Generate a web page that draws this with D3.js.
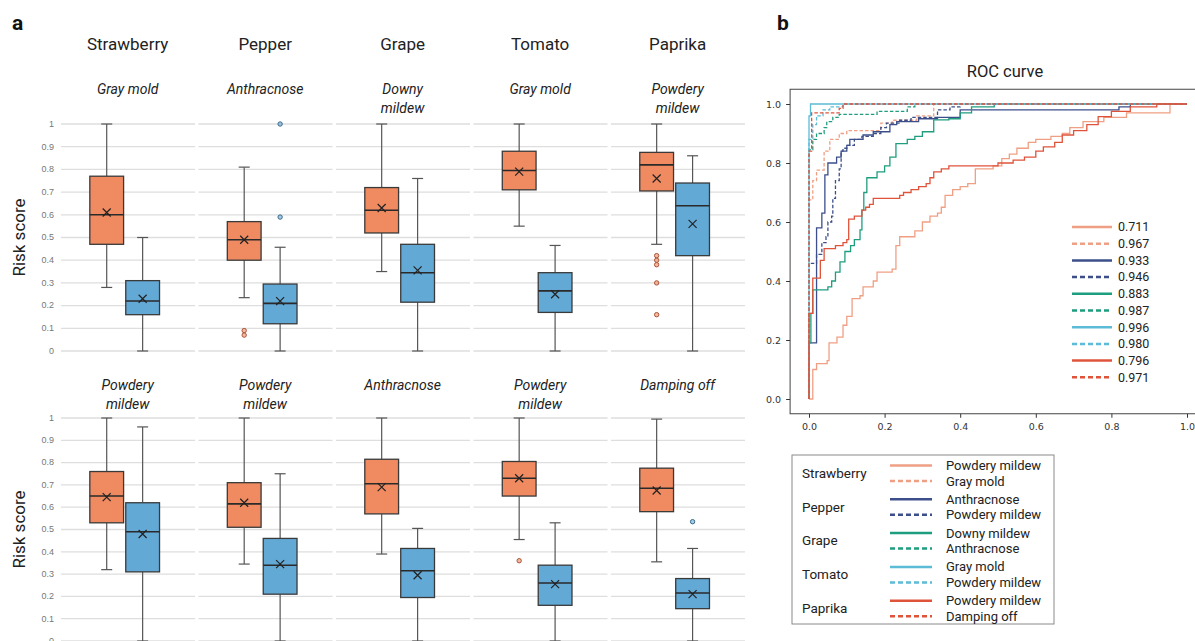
<!DOCTYPE html>
<html lang="en">
<head>
<meta charset="UTF-8">
<title>Risk score boxplots and ROC curve</title>
<style>
    body { margin: 0; background: #fff; }
    svg { display: block; font-family: Roboto, "Noto Sans", sans-serif; }
    .grid line { stroke: #dedede; stroke-width: 1.3px; }
    .ytick { font-size: 9px; fill: #777; font-family: "Liberation Sans Narrow", "Liberation Sans", sans-serif; }
    .crop { font-size: 17px; fill: #222; }
    .disease { font-size: 14px; font-style: italic; fill: #222; }
    .ylab { font-size: 17px; fill: #222; }
    .panel { font-size: 21px; font-weight: bold; fill: #111; }
    .roc-axis text { font-family: "DejaVu Sans", sans-serif; font-size: 9.5px; fill: #333; }
    .roc-axis path { display: none; }
    .roc-axis line { stroke: #333; }
    .leg { font-size: 12.5px; fill: #222; }
    .leg-crop { font-size: 13.5px; fill: #222; }
    .leg-dis { font-size: 13px; fill: #222; }
</style>
<script src="https://d3js.org/d3.v7.min.js"></script>
</head>
<body>
<svg width="1195" height="641"></svg>
<script>
    // ---- panel a data ----
    const crops = ["Strawberry", "Pepper", "Grape", "Tomato", "Paprika"];
    const topDiseases = [["Gray mold"], ["Anthracnose"], ["Downy", "mildew"], ["Gray mold"], ["Powdery", "mildew"]];
    const bottomDiseases = [["Powdery", "mildew"], ["Powdery", "mildew"], ["Anthracnose"], ["Powdery", "mildew"], ["Damping off"]];
    const yTicks = [0, 0.1, 0.2, 0.3, 0.4, 0.5, 0.6, 0.7, 0.8, 0.9, 1];

    // [min, q1, median, q3, max, mean]
    const topOrange = [
        [0.28, 0.47, 0.60, 0.77, 1.0, 0.61],
        [0.235, 0.40, 0.49, 0.57, 0.81, 0.49],
        [0.35, 0.52, 0.62, 0.72, 1.0, 0.63],
        [0.55, 0.71, 0.795, 0.88, 1.0, 0.79],
        [0.47, 0.705, 0.82, 0.875, 1.0, 0.76]
    ];
    const topBlue = [
        [0, 0.16, 0.22, 0.31, 0.50, 0.23],
        [0, 0.12, 0.21, 0.295, 0.457, 0.22],
        [0, 0.215, 0.345, 0.47, 0.76, 0.355],
        [0, 0.17, 0.265, 0.345, 0.465, 0.25],
        [0, 0.42, 0.64, 0.74, 0.86, 0.56]
    ];
    const topOrangeOut = [[], [0.09, 0.07], [], [], [0.42, 0.40, 0.38, 0.30, 0.16]];
    const topBlueOut = [[], [1.0, 0.59], [], [], []];

    const bottomOrange = [
        [0.32, 0.53, 0.65, 0.76, 1.0, 0.645],
        [0.345, 0.51, 0.615, 0.71, 1.0, 0.62],
        [0.39, 0.57, 0.705, 0.815, 1.0, 0.69],
        [0.455, 0.65, 0.73, 0.805, 1.0, 0.73],
        [0.355, 0.58, 0.685, 0.775, 0.995, 0.675]
    ];
    const bottomBlue = [
        [0, 0.31, 0.49, 0.62, 0.96, 0.48],
        [0, 0.21, 0.34, 0.46, 0.75, 0.345],
        [0, 0.195, 0.315, 0.415, 0.505, 0.295],
        [0, 0.16, 0.26, 0.34, 0.53, 0.255],
        [0, 0.145, 0.215, 0.28, 0.415, 0.21]
    ];
    const bottomOrangeOut = [[], [], [], [0.36], []];
    const bottomBlueOut = [[], [], [], [], [0.535]];

    // ---- panel b data: ROC step points [fpr, tpr] ----
    const rocStrawPM = [[0,0],[0.01,0.10],[0.02,0.12],[0.048,0.13],[0.053,0.19],[0.074,0.21],[0.09,0.25],[0.10,0.28],[0.114,0.34],[0.135,0.35],[0.143,0.38],[0.17,0.40],[0.18,0.43],[0.22,0.44],[0.23,0.52],[0.24,0.55],[0.28,0.57],[0.30,0.60],[0.32,0.62],[0.34,0.63],[0.35,0.65],[0.36,0.69],[0.38,0.71],[0.40,0.72],[0.42,0.73],[0.44,0.78],[0.487,0.79],[0.51,0.815],[0.53,0.83],[0.55,0.85],[0.58,0.87],[0.60,0.88],[0.64,0.89],[0.67,0.90],[0.69,0.92],[0.725,0.94],[0.78,0.955],[0.84,0.97],[0.955,1.0],[1,1]];
    const rocStrawGM = [[0,0],[0,0.675],[0.01,0.74],[0.02,0.776],[0.04,0.84],[0.055,0.88],[0.08,0.90],[0.10,0.91],[0.19,0.935],[0.22,0.945],[0.285,0.96],[0.33,1.0],[1,1]];
    const rocPepperA = [[0,0],[0,0.19],[0.02,0.58],[0.034,0.63],[0.042,0.76],[0.05,0.80],[0.073,0.82],[0.085,0.84],[0.10,0.86],[0.108,0.88],[0.143,0.895],[0.17,0.906],[0.214,0.93],[0.232,0.94],[0.29,0.95],[0.34,0.955],[0.40,0.98],[0.82,0.99],[0.85,1.0],[1,1]];
    const rocPepperPM = [[0,0],[0,0.46],[0.02,0.49],[0.034,0.53],[0.045,0.55],[0.05,0.60],[0.06,0.62],[0.063,0.68],[0.07,0.74],[0.08,0.78],[0.085,0.84],[0.09,0.85],[0.10,0.86],[0.12,0.88],[0.14,0.89],[0.17,0.90],[0.19,0.92],[0.205,0.935],[0.24,0.945],[0.27,0.955],[0.34,0.98],[0.373,0.99],[0.40,1.0],[1,1]];
    const rocGrapeDM = [[0,0],[0,0.19],[0.005,0.29],[0.01,0.37],[0.05,0.38],[0.06,0.40],[0.07,0.43],[0.082,0.465],[0.095,0.50],[0.11,0.52],[0.12,0.54],[0.135,0.573],[0.14,0.64],[0.145,0.70],[0.153,0.75],[0.18,0.77],[0.20,0.79],[0.214,0.82],[0.23,0.866],[0.26,0.88],[0.28,0.89],[0.30,0.906],[0.33,0.946],[0.37,0.95],[0.40,0.97],[0.43,0.99],[0.49,1.0],[1,1]];
    const rocGrapeA = [[0,0],[0,0.845],[0.01,0.88],[0.02,0.90],[0.04,0.92],[0.047,0.94],[0.063,0.955],[0.08,0.965],[0.18,0.975],[0.26,0.99],[0.28,1.0],[1,1]];
    const rocTomatoGM = [[0,0],[0,0.96],[0.004,1.0],[1,1]];
    const rocTomatoPM = [[0,0],[0,0.88],[0.01,0.93],[0.02,0.96],[0.037,0.98],[0.055,0.99],[0.09,1.0],[1,1]];
    const rocPaprikaPM = [[0,0],[0,0.29],[0.01,0.41],[0.03,0.47],[0.04,0.51],[0.07,0.52],[0.09,0.53],[0.10,0.54],[0.105,0.61],[0.12,0.62],[0.14,0.64],[0.15,0.65],[0.16,0.66],[0.17,0.68],[0.24,0.69],[0.25,0.70],[0.27,0.71],[0.29,0.72],[0.31,0.73],[0.32,0.75],[0.33,0.77],[0.35,0.78],[0.37,0.79],[0.50,0.80],[0.54,0.81],[0.57,0.82],[0.60,0.84],[0.62,0.855],[0.65,0.87],[0.67,0.895],[0.70,0.91],[0.735,0.93],[0.765,0.957],[0.80,0.975],[0.85,0.99],[0.92,1.0],[1,1]];
    const rocPaprikaDO = [[0,0],[0,0.84],[0.007,0.97],[0.08,0.985],[0.09,1.0],[1,1]];

    const rocCurves = [rocStrawPM, rocStrawGM, rocPepperA, rocPepperPM, rocGrapeDM, rocGrapeA, rocTomatoGM, rocTomatoPM, rocPaprikaPM, rocPaprikaDO];
    const aucLabels = ["0.711", "0.967", "0.933", "0.946", "0.883", "0.987", "0.996", "0.980", "0.796", "0.971"];
    const cropColors = ["#EFA084", "#3C4F8A", "#1F9D7F", "#5CBBD6", "#E0533B"];
    const legendDiseases = [["Powdery mildew", "Gray mold"], ["Anthracnose", "Powdery mildew"], ["Downy mildew", "Anthracnose"], ["Gray mold", "Powdery mildew"], ["Powdery mildew", "Damping off"]];

    const svg = d3.select("svg");

    // ================= panel a =================
    svg.append("text").attr("class", "panel").attr("x", 12).attr("y", 30).text("a");

    const xPanel = d3.scaleBand().domain(crops).range([61, 745]).paddingInner(0.025);
    const xGroup = d3.scaleBand().domain(["pos", "neg"])
        .range([xPanel.bandwidth() * 0.215, xPanel.bandwidth() * 0.735]).paddingInner(0.06);
    const pairCenter = c => xPanel(c) + xPanel.bandwidth() * 0.475;

    const orange = "#EF8A61", blue = "#63A9D6";

    // crop titles
    svg.selectAll(".crop").data(crops).join("text")
        .attr("class", "crop")
        .attr("x", d => pairCenter(d) + 3)
        .attr("y", 50)
        .attr("text-anchor", "middle")
        .text(d => d);

    function drawRow(y, diseases, oStats, bStats, oOut, bOut, subY) {
        const g = svg.append("g");

        // y label and ticks
        g.append("text").attr("class", "ylab")
            .attr("transform", `translate(25,${(y(0) + y(1)) / 2}) rotate(-90)`)
            .attr("text-anchor", "middle").text("Risk score");
        g.selectAll(".ytick").data(yTicks).join("text")
            .attr("class", "ytick")
            .attr("x", 54).attr("y", d => y(d)).attr("dy", "0.32em")
            .attr("text-anchor", "end")
            .text(d => d3.format("~g")(d));

        crops.forEach((c, i) => {
            const pg = g.append("g").attr("transform", `translate(${xPanel(c)},0)`);
            pg.append("g").attr("class", "grid").selectAll("line").data(yTicks).join("line")
                .attr("x1", 0).attr("x2", xPanel.bandwidth())
                .attr("y1", d => y(d)).attr("y2", d => y(d));

            // disease subtitle
            const t = pg.append("text").attr("class", "disease")
                .attr("x", xPanel.bandwidth() * 0.475 + 3).attr("y", subY).attr("text-anchor", "middle");
            diseases[i].forEach((line, k) => {
                t.append("tspan").attr("x", xPanel.bandwidth() * 0.475 + 3).attr("dy", k === 0 ? 0 : 18.5).text(line);
            });

            [["pos", oStats[i], oOut[i], orange, "#A9553A"], ["neg", bStats[i], bOut[i], blue, "#3D6B8A"]].forEach(([key, s, out, fill, outStroke]) => {
                const bw = xGroup.bandwidth();
                const x0 = xGroup(key), cx = x0 + bw / 2;
                const bg = pg.append("g");
                // whiskers
                bg.append("line").attr("x1", cx).attr("x2", cx).attr("y1", y(s[0])).attr("y2", y(s[1]))
                    .attr("stroke", "#555").attr("stroke-width", 1.2);
                bg.append("line").attr("x1", cx).attr("x2", cx).attr("y1", y(s[3])).attr("y2", y(s[4]))
                    .attr("stroke", "#555").attr("stroke-width", 1.2);
                [s[0], s[4]].forEach(v => {
                    bg.append("line").attr("x1", cx - 5.5).attr("x2", cx + 5.5).attr("y1", y(v)).attr("y2", y(v))
                        .attr("stroke", "#555").attr("stroke-width", 1.2);
                });
                // box
                bg.append("rect").attr("x", x0).attr("width", bw)
                    .attr("y", y(s[3])).attr("height", y(s[1]) - y(s[3]))
                    .attr("fill", fill).attr("stroke", "#3a3a3a").attr("stroke-width", 1.3);
                bg.append("line").attr("x1", x0).attr("x2", x0 + bw).attr("y1", y(s[2])).attr("y2", y(s[2]))
                    .attr("stroke", "#2a2a2a").attr("stroke-width", 1.6);
                // mean marker
                const my = y(s[5]);
                bg.append("path").attr("d", `M${cx - 4},${my - 4}L${cx + 4},${my + 4}M${cx - 4},${my + 4}L${cx + 4},${my - 4}`)
                    .attr("stroke", "#222").attr("stroke-width", 1.2);
                // outliers
                bg.selectAll("circle").data(out).join("circle")
                    .attr("cx", cx).attr("cy", d => y(d)).attr("r", 2.2)
                    .attr("fill", fill).attr("fill-opacity", 0.6)
                    .attr("stroke", outStroke).attr("stroke-width", 1);
            });
        });
    }

    const yTop = d3.scaleLinear().domain([0, 1]).range([351, 124]);
    const yBottom = d3.scaleLinear().domain([0, 1]).range([641, 418]);
    drawRow(yTop, topDiseases, topOrange, topBlue, topOrangeOut, topBlueOut, 94);
    drawRow(yBottom, bottomDiseases, bottomOrange, bottomBlue, bottomOrangeOut, bottomBlueOut, 390);

    // ================= panel b =================
    svg.append("text").attr("class", "panel").attr("x", 777).attr("y", 30).text("b");

    const rx = d3.scaleLinear().domain([0, 1]).range([809, 1187]);
    const ry = d3.scaleLinear().domain([0, 1]).range([399, 104]);

    svg.append("text").attr("x", 1005).attr("y", 77).attr("text-anchor", "middle")
        .attr("font-size", 16.5).attr("fill", "#222").text("ROC curve");

    svg.append("g").attr("class", "roc-axis")
        .attr("transform", `translate(0,${ry(-0.05)})`)
        .call(d3.axisBottom(rx).tickValues([0, 0.2, 0.4, 0.6, 0.8, 1.0]).tickFormat(d3.format(".1f")).tickSize(4).tickPadding(6));
    svg.append("g").attr("class", "roc-axis")
        .attr("transform", `translate(${rx(-0.05)},0)`)
        .call(d3.axisLeft(ry).tickValues([0, 0.2, 0.4, 0.6, 0.8, 1.0]).tickFormat(d3.format(".1f")).tickSize(4).tickPadding(5));

    const rocLine = d3.line().x(d => rx(d[0])).y(d => ry(d[1])).curve(d3.curveStepAfter);
    rocCurves.forEach((c, i) => {
        svg.append("path").datum(c)
            .attr("d", rocLine)
            .attr("fill", "none")
            .attr("stroke", cropColors[Math.floor(i / 2)])
            .attr("stroke-width", 1.3)
            .attr("stroke-dasharray", i % 2 ? "3.5,2" : null);
    });

    svg.append("rect")
        .attr("x", rx(-0.05)).attr("y", ry(1.05))
        .attr("width", rx(1.05) - rx(-0.05)).attr("height", ry(-0.05) - ry(1.05))
        .attr("fill", "none").attr("stroke", "#444").attr("stroke-width", 1);

    // AUC legend
    const aucLeg = svg.append("g").selectAll("g").data(aucLabels).join("g")
        .attr("transform", (d, i) => `translate(1072,${227 + i * 16.7})`);
    aucLeg.append("line").attr("x1", 0).attr("x2", 40)
        .attr("stroke", (d, i) => cropColors[Math.floor(i / 2)])
        .attr("stroke-width", 2.5)
        .attr("stroke-dasharray", (d, i) => i % 2 ? "5,3" : null);
    aucLeg.append("text").attr("class", "leg").attr("x", 46).attr("dy", "0.35em").text(d => d);

    // crop / disease legend box
    svg.append("rect").attr("x", 792).attr("y", 455).attr("width", 262).attr("height", 169)
        .attr("fill", "#fff").attr("stroke", "#8a8a8a").attr("stroke-width", 1);
    const cropLeg = svg.append("g").selectAll("g").data(crops).join("g")
        .attr("transform", (d, i) => `translate(0,${473 + i * 33.8})`);
    cropLeg.append("text").attr("class", "leg-crop").attr("x", 802).attr("dy", "0.35em").text(d => d);
    [-7.5, 8].forEach((off, k) => {
        cropLeg.append("line").attr("x1", 890).attr("x2", 932).attr("y1", off).attr("y2", off)
            .attr("stroke", (d, i) => cropColors[i]).attr("stroke-width", 2.5)
            .attr("stroke-dasharray", k ? "5,3" : null);
        cropLeg.append("text").attr("class", "leg-dis").attr("x", 946).attr("y", off).attr("dy", "0.35em")
            .text((d, i) => legendDiseases[i][k]);
    });
</script>
</body>
</html>
